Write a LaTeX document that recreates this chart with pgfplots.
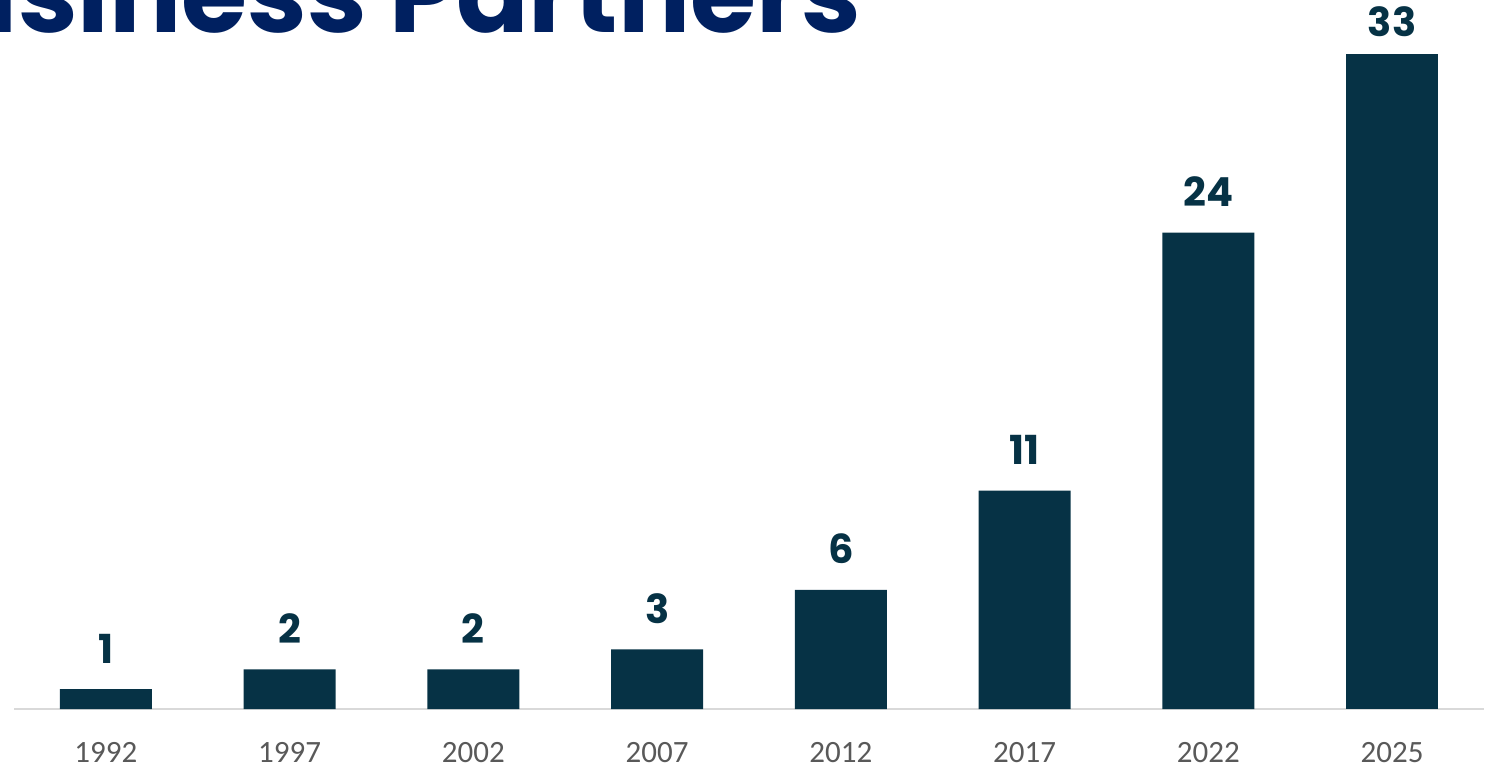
\documentclass[border=0pt]{standalone}
\usepackage{pgfplots}
\pgfplotsset{compat=1.18}
\usepackage{fontspec}
\setmainfont{Carlito}
\newfontfamily\poppins{Poppins}
\definecolor{barteal}{HTML}{063245}
\definecolor{titleblue}{HTML}{002060}
\definecolor{ticktext}{HTML}{595959}
\definecolor{baseline}{HTML}{D9D9D9}

\begin{document}
\begin{tikzpicture}
	% 1 px of the reference = 0.5pt
	\useasboundingbox (0,0) rectangle (745.5pt,383.5pt);
	\clip (0,0) rectangle (745.5pt,383.5pt);

	\node[anchor=base east, inner sep=0, text=titleblue,
		font=\poppins\bfseries\fontsize{53.5}{53.5}\selectfont]
		at (431pt,367pt) {Business Partners};

	\begin{axis}[
		at={(7pt,29pt)}, anchor=south west,
		scale only axis,
		width=735pt, height=357.3pt,
		xmin=-0.5, xmax=7.5,
		ymin=0, ymax=36,
		clip=false,
		axis x line*=bottom,
		axis y line=none,
		x axis line style={draw=baseline, line width=1pt, -},
		major tick length=0pt,
		xtick={0,...,7},
		xticklabels={1992,1997,2002,2007,2012,2017,2022,2025},
		xticklabel style={anchor=base, yshift=-26.5pt, inner sep=0pt,
			text=ticktext, font=\fontsize{15.5}{15.5}\selectfont},
		ytick=\empty,
		ybar, bar width=46pt, bar shift=0pt,
		nodes near coords,
		every node near coord/.append style={anchor=base, inner sep=0pt,
			/pgf/number format/assume math mode=true,
			text=barteal, font=\poppins\bfseries\fontsize{20}{20}\selectfont},
	]
		\addplot[fill=barteal, draw=none,
			every node near coord/.append style={yshift=13pt}]
			coordinates {(0,1) (1,2) (2,2) (3,3) (4,6) (5,11) (6,24)};
		\addplot[fill=barteal, draw=none,
			every node near coord/.append style={yshift=8.5pt}]
			coordinates {(7,33)};
	\end{axis}
\end{tikzpicture}
\end{document}
